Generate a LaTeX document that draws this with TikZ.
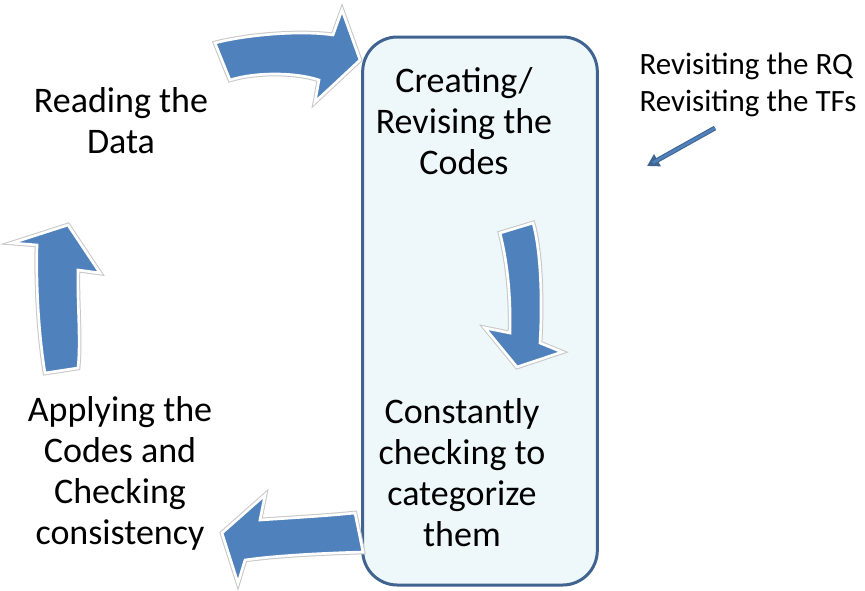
\documentclass[tikz,border=0pt]{standalone}
\usepackage{fontspec}
\setmainfont{Carlito}
\usetikzlibrary{arrows.meta}

\definecolor{arrowblue}{HTML}{4F81BD}
\definecolor{boxfill}{HTML}{EEF8FA}
\definecolor{boxline}{HTML}{41638F}

\tikzset{every picture/.style={line width=0.75pt}}
\tikzset{
  blockarrow/.style={fill=arrowblue, draw=white, line width=2pt, line join=miter,
    preaction={draw=black!22, line width=3.5pt}},
  steptext/.style={align=center, inner sep=0pt, font=\fontsize{27}{30.75}\selectfont},
  notetext/.style={align=left, inner sep=0pt, font=\fontsize{23.25}{27.75}\selectfont},
}

\begin{document}
\begin{tikzpicture}[x=0.75pt,y=0.75pt,yscale=-1,xscale=1]
        \useasboundingbox (0,0) rectangle (865,590);

        %Rounded Rect [id:codebox]
        \node[draw=boxline, fill=boxfill, line width=2.25pt, rounded corners=26pt,
              minimum width=176pt, minimum height=411pt, inner sep=0pt] (codebox) at (480,311) {};

        %Text nodes
        \node[steptext] (reading) at (121,121) {Reading the\\Data};
        \node[steptext] (creating) at (464,121) {Creating/\\Revising the\\Codes};
        \node[steptext] (checking) at (462,473) {Constantly\\checking to\\categorize\\them};
        \node[steptext] (applying) at (120,473) {Applying the\\Codes and\\Checking\\consistency};
        \node[notetext, anchor=west] (revisiting) at (639,85) {Revisiting the RQ\\Revisiting the TFs};

        %Shape: Curved Right Arrow [id:toparrow]
        \draw[blockarrow] (215,43) .. controls (245,35) and (300,30) .. (333,35) -- (342,10) -- (360,60)
              -- (315,102) -- (319,80) .. controls (295,72) and (255,72) .. (230,80) -- cycle ;
        %Shape: Curved Down Arrow [id:downarrow]
        \draw[blockarrow] (500,233) -- (533,223) .. controls (542,255) and (542,310) .. (540,343)
              -- (562,352) -- (517,367) -- (485,328) -- (510,333)
              .. controls (511,295) and (507,260) .. (500,233) -- cycle ;
        %Shape: Curved Left Arrow [id:bottomarrow]
        \draw[blockarrow] (355,513) .. controls (325,516) and (290,518) .. (260,520) -- (265,495) -- (222,533)
              -- (238,583) -- (245,560) .. controls (280,555) and (330,553) .. (363,552) -- cycle ;
        %Shape: Curved Up Arrow [id:uparrow]
        \draw[blockarrow] (45,373) .. controls (38,330) and (36,280) .. (37,245) -- (12,243) -- (68,225)
              -- (100,273) -- (78,270) .. controls (77,300) and (81,340) .. (78,368) -- cycle ;

        %Straight Lines [id:rqarrow]
        \coordinate (rqtail) at (715,128);
        \coordinate (rqhead) at (647,166);
        \draw[draw=boxline, line width=3.6pt, -{Triangle[length=9pt,width=10pt]}] (rqtail) -- (rqhead) ;
        \draw[draw=arrowblue, line width=2pt, shorten >=5pt] (rqtail) -- (rqhead) ;

        \end{tikzpicture}
\end{document}
